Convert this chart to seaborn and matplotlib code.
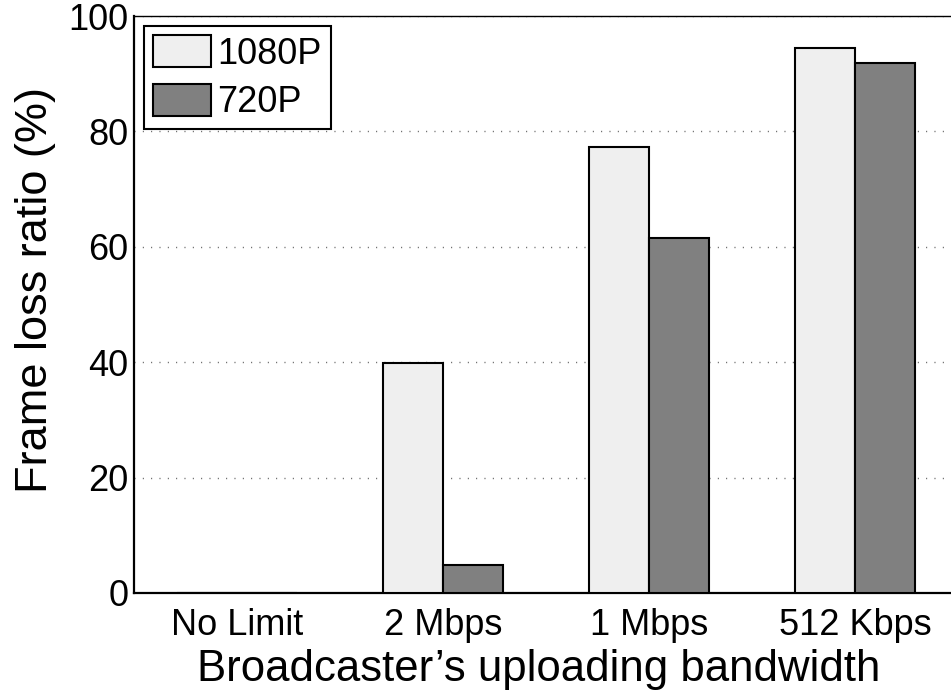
import matplotlib
matplotlib.use("Agg")
import matplotlib.pyplot as plt
import pandas as pd
import seaborn as sns

# Frame loss ratio (%) per uploading bandwidth limit and resolution
bandwidths = ["No Limit", "2 Mbps", "1 Mbps", "512 Kbps"]
loss_1080p = [0.0, 39.9, 77.3, 94.5]
loss_720p = [0.0, 4.8, 61.5, 91.8]
resolutions = ["1080P", "720P"]
yticks = [0, 20, 40, 60, 80, 100]

df = pd.DataFrame({
    "bandwidth": bandwidths * 2,
    "loss": loss_1080p + loss_720p,
    "resolution": [resolutions[0]] * len(bandwidths) + [resolutions[1]] * len(bandwidths),
})

sns.set_style("white")
plt.rcParams["font.family"] = ["Liberation Sans", "DejaVu Sans"]
plt.rcParams["text.color"] = "black"
plt.rcParams["axes.labelcolor"] = "black"

fig = plt.figure(figsize=(9.51, 6.91), dpi=100)
ax = fig.add_axes([134 / 951, 98 / 691, 824 / 951, 577 / 691])

palette = {"1080P": "#efefef", "720P": "#808080"}
sns.barplot(
    data=df, x="bandwidth", y="loss", hue="resolution",
    order=bandwidths, hue_order=resolutions, palette=palette,
    width=0.58, gap=0, edgecolor="black", linewidth=1.5,
    saturation=1, errorbar=None, ax=ax, zorder=3,
)

ax.set_xlim(-0.5, 3.5)
ax.set_ylim(0, 100)
ax.set_yticks(yticks)
ax.set_yticklabels([str(v) for v in yticks])

# dotted horizontal grid
ax.yaxis.grid(True, color="#555555", linewidth=1.0, linestyle=(0, (0.7, 5.3)), zorder=0)
ax.xaxis.grid(False)
ax.set_axisbelow(True)

for side in ["left", "bottom"]:
    ax.spines[side].set_linewidth(1.6)
    ax.spines[side].set_color("black")
ax.spines["top"].set_linewidth(1.0)
ax.spines["top"].set_color("black")
ax.spines["right"].set_visible(False)

ax.tick_params(axis="both", length=0, labelsize=26, colors="black")
ax.tick_params(axis="x", pad=11)
ax.tick_params(axis="y", pad=4)

ax.set_xlabel("Broadcaster\u2019s uploading bandwidth", fontsize=31.5, labelpad=4, color="black")
ax.set_ylabel("Frame loss ratio (%)", fontsize=32.5, labelpad=9, color="black")
ax.xaxis.label.set_x(0.491)
ax.yaxis.label.set_y(0.525)

leg = ax.legend(
    loc="upper left", fontsize=26, frameon=True, fancybox=False,
    borderaxespad=0.28, borderpad=0.25, labelspacing=0.33,
    handlelength=1.6, handleheight=1.0, handletextpad=0.18,
)
leg.get_frame().set_edgecolor("black")
leg.get_frame().set_linewidth(1.5)
leg.get_frame().set_alpha(1)
for h in leg.legend_handles:
    h.set_edgecolor("black")
    h.set_linewidth(1.5)
for t in leg.get_texts():
    t.set_color("black")

fig.savefig("out.png", dpi=100)
